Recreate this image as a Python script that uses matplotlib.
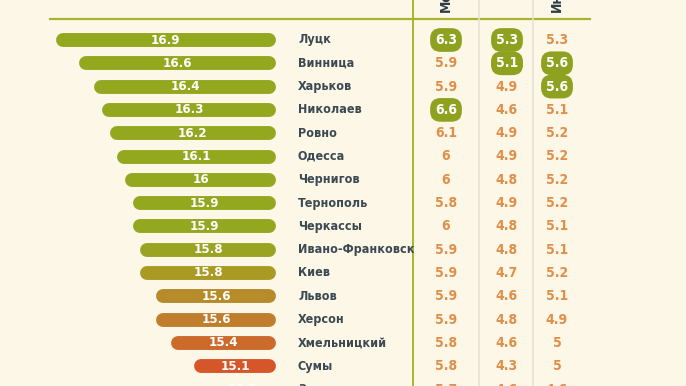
import matplotlib
matplotlib.use('Agg')
import matplotlib.pyplot as plt

# данные
cities = ['Луцк', 'Винница', 'Харьков', 'Николаев', 'Ровно', 'Одесса', 'Чернигов',
          'Тернополь', 'Черкассы', 'Ивано-Франковск', 'Киев', 'Львов', 'Херсон',
          'Хмельницкий', 'Сумы', 'Запорожье']
total = [16.9, 16.6, 16.4, 16.3, 16.2, 16.1, 16, 15.9, 15.9, 15.8, 15.8, 15.6, 15.6, 15.4, 15.1, 14.9]
col1 = [6.3, 5.9, 5.9, 6.6, 6.1, 6, 6, 5.8, 6, 5.9, 5.9, 5.9, 5.9, 5.8, 5.8, 5.7]
col2 = [5.3, 5.1, 4.9, 4.6, 4.9, 4.9, 4.8, 4.9, 4.8, 4.8, 4.7, 4.6, 4.8, 4.6, 4.3, 4.6]
col3 = [5.3, 5.6, 5.6, 5.1, 5.2, 5.2, 5.2, 5.2, 5.1, 5.1, 5.2, 5.1, 4.9, 5, 5, 4.6]
headers = ['Медицина', '', 'Инфраструктура']

bar_colors = ['#93a71f'] * 9 + ['#9ba322', '#a99a23', '#b68c2a', '#c07e2c',
                                '#cc6a2c', '#d6562a', '#d44b28']
bg = '#fcf7e7'
green = '#8ea220'
orange = '#e08f4a'
dark = '#3b4952'

plt.rcParams['font.family'] = ['DejaVu Sans']
plt.rcParams['font.stretch'] = 'condensed'

W, H = 686, 386
fig = plt.figure(figsize=(W / 100, H / 100), dpi=100)
fig.patch.set_facecolor(bg)
ax = fig.add_axes([0, 0, 1, 1])
ax.set_facecolor(bg)
ax.axis('off')

# шкала: основание полос справа
base = 14.04
ppu = 77.0        # пикселей на единицу
right_px = 276
ax.set_xlim(base + right_px / ppu, base - (W - right_px) / ppu)
row0, step = 40, 23.3
ax.set_ylim((H - row0) / step, -row0 / step)

trans = ax.get_yaxis_transform()
r = 7 / ppu
for i, v in enumerate(total):
    ax.plot([base + r, v - r], [i, i], color=bar_colors[i], lw=10,
            solid_capstyle='round', zorder=3)
    ax.text((base + v) / 2, i, f'{v:g}', color='white', fontsize=9.5,
            fontweight='bold', ha='center', va='center', zorder=4)
    ax.text(298 / W, i, cities[i], transform=trans, color=dark, fontsize=9,
            fontweight='bold', ha='left', va='center')

cols = [col1, col2, col3]
col_x = [446, 507, 557]
for c, vals in enumerate(cols):
    top2 = sorted(vals, reverse=True)[:2]
    for i, v in enumerate(vals):
        if v in top2:
            ax.text(col_x[c] / W, i, f'{v:g}', transform=trans, color='white',
                    fontsize=10, fontweight='bold', ha='center', va='center',
                    bbox=dict(boxstyle='round,pad=0.35,rounding_size=0.75',
                              fc=green, ec='none'))
        else:
            ax.text(col_x[c] / W, i, f'{v:g}', transform=trans, color=orange,
                    fontsize=10, fontweight='bold', ha='center', va='center')
    if headers[c]:
        ax.text(col_x[c] / W, 1 - 12 / H, headers[c], transform=ax.transAxes,
                rotation=90, color='#2c3d45', fontsize=10, fontweight='bold',
                ha='center', va='bottom')

# линии таблицы
ax.plot([50 / W, 590 / W], [1 - 19 / H] * 2, transform=ax.transAxes,
        color='#a5b532', lw=1.6)
ax.plot([413 / W] * 2, [0, 1], transform=ax.transAxes, color='#a5b532', lw=1.4)
for xp in [479, 533]:
    ax.plot([xp / W] * 2, [0, 1], transform=ax.transAxes, color='#e6e2d4', lw=1.2)

fig.savefig('out.png', dpi=100, facecolor=bg)
